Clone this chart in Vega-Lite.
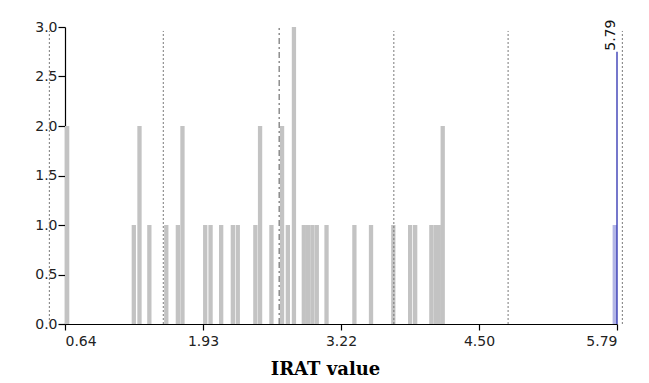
{
  "$schema": "https://vega.github.io/schema/vega-lite/v6.json",
  "width": 552,
  "height": 297,
  "autosize": {"type": "none"},
  "padding": {"left": 65, "top": 27, "right": 32, "bottom": 59},
  "background": "white",
  "config": {
    "view": {"stroke": null},
    "axis": {
      "labelFont": "DejaVu Sans",
      "labelFontSize": 14,
      "labelColor": "#222",
      "domainColor": "#000",
      "tickColor": "#000",
      "domainWidth": 1.2,
      "tickWidth": 1.2,
      "grid": false
    }
  },
  "datasets": {
    "bars": [
      {"irat": 0.660, "n": 2, "grp": "other"},
      {"irat": 1.282, "n": 1, "grp": "other"},
      {"irat": 1.335, "n": 2, "grp": "other"},
      {"irat": 1.427, "n": 1, "grp": "other"},
      {"irat": 1.585, "n": 1, "grp": "other"},
      {"irat": 1.693, "n": 1, "grp": "other"},
      {"irat": 1.736, "n": 2, "grp": "other"},
      {"irat": 1.948, "n": 1, "grp": "other"},
      {"irat": 1.998, "n": 1, "grp": "other"},
      {"irat": 2.097, "n": 1, "grp": "other"},
      {"irat": 2.206, "n": 1, "grp": "other"},
      {"irat": 2.252, "n": 1, "grp": "other"},
      {"irat": 2.416, "n": 1, "grp": "other"},
      {"irat": 2.460, "n": 2, "grp": "other"},
      {"irat": 2.566, "n": 1, "grp": "other"},
      {"irat": 2.665, "n": 2, "grp": "other"},
      {"irat": 2.719, "n": 1, "grp": "other"},
      {"irat": 2.776, "n": 3, "grp": "other"},
      {"irat": 2.868, "n": 1, "grp": "other"},
      {"irat": 2.908, "n": 1, "grp": "other"},
      {"irat": 2.948, "n": 1, "grp": "other"},
      {"irat": 2.989, "n": 1, "grp": "other"},
      {"irat": 3.080, "n": 1, "grp": "other"},
      {"irat": 3.340, "n": 1, "grp": "other"},
      {"irat": 3.495, "n": 1, "grp": "other"},
      {"irat": 3.703, "n": 1, "grp": "other"},
      {"irat": 3.860, "n": 1, "grp": "other"},
      {"irat": 3.907, "n": 1, "grp": "other"},
      {"irat": 4.058, "n": 1, "grp": "other"},
      {"irat": 4.098, "n": 1, "grp": "other"},
      {"irat": 4.127, "n": 1, "grp": "other"},
      {"irat": 4.164, "n": 2, "grp": "other"},
      {"irat": 5.769, "n": 1, "grp": "selected"}
    ],
    "sd": [
      {"irat": 0.494, "n": 0, "n2": 2.96},
      {"irat": 1.557, "n": 0, "n2": 2.96},
      {"irat": 3.708, "n": 0, "n2": 2.96},
      {"irat": 4.774, "n": 0, "n2": 2.96},
      {"irat": 5.840, "n": 0, "n2": 2.96}
    ],
    "mean": [{"irat": 2.638, "n": 0, "n2": 2.99}],
    "sel": [{"irat": 5.79, "n": 0, "n2": 2.75, "label": "5.79"}]
  },
  "layer": [
    {
      "data": {"name": "bars"},
      "mark": {"type": "bar", "size": 4.3},
      "encoding": {
        "x": {"field": "irat", "type": "quantitative",
              "scale": {"domain": [0.64, 5.79], "nice": false, "zero": false, "padding": 0},
              "axis": {"values": [0.64, 1.9275, 3.2151, 4.5025, 5.79], "format": ".2f", "tickSize": 6, "labelPadding": 4,
                       "title": "IRAT value", "titleFont": "DejaVu Serif", "titleFontSize": 18, "titleFontWeight": "bold",
                       "titleColor": "#000", "titleX": 260, "titleY": 36, "titleBaseline": "top"}},
        "y": {"field": "n", "type": "quantitative",
              "scale": {"domain": [0, 3], "nice": false, "padding": 0},
              "axis": {"values": [0, 0.5, 1, 1.5, 2, 2.5, 3], "format": ".1f", "tickSize": 7, "labelPadding": 1, "title": null}},
        "color": {
          "field": "grp",
          "type": "nominal",
          "scale": {"domain": ["other", "selected"], "range": ["#c3c3c3", "#b3b6e6"]},
          "legend": null
        }
      }
    },
    {
      "data": {"name": "sd"},
      "mark": {"type": "rule", "strokeDash": [2, 2], "color": "#7a7a7a", "strokeWidth": 1},
      "encoding": {
        "x": {"field": "irat", "type": "quantitative",
              "scale": {"domain": [0.64, 5.79], "nice": false, "zero": false, "padding": 0},
              "axis": {"values": [0.64, 1.9275, 3.2151, 4.5025, 5.79], "format": ".2f", "tickSize": 6, "labelPadding": 4,
                       "title": "IRAT value", "titleFont": "DejaVu Serif", "titleFontSize": 18, "titleFontWeight": "bold",
                       "titleColor": "#000", "titleX": 260, "titleY": 36, "titleBaseline": "top"}},
        "y": {"field": "n", "type": "quantitative",
              "scale": {"domain": [0, 3], "nice": false, "padding": 0},
              "axis": {"values": [0, 0.5, 1, 1.5, 2, 2.5, 3], "format": ".1f", "tickSize": 7, "labelPadding": 1, "title": null}},
        "y2": {"field": "n2"}
      }
    },
    {
      "data": {"name": "mean"},
      "mark": {"type": "rule", "strokeDash": [6, 3, 2, 3], "color": "#555", "strokeWidth": 1},
      "encoding": {
        "x": {"field": "irat", "type": "quantitative",
              "scale": {"domain": [0.64, 5.79], "nice": false, "zero": false, "padding": 0},
              "axis": {"values": [0.64, 1.9275, 3.2151, 4.5025, 5.79], "format": ".2f", "tickSize": 6, "labelPadding": 4,
                       "title": "IRAT value", "titleFont": "DejaVu Serif", "titleFontSize": 18, "titleFontWeight": "bold",
                       "titleColor": "#000", "titleX": 260, "titleY": 36, "titleBaseline": "top"}},
        "y": {"field": "n", "type": "quantitative",
              "scale": {"domain": [0, 3], "nice": false, "padding": 0},
              "axis": {"values": [0, 0.5, 1, 1.5, 2, 2.5, 3], "format": ".1f", "tickSize": 7, "labelPadding": 1, "title": null}},
        "y2": {"field": "n2"}
      }
    },
    {
      "data": {"name": "sel"},
      "mark": {"type": "rule", "color": "#2b2fb0", "strokeWidth": 1.3},
      "encoding": {
        "x": {"field": "irat", "type": "quantitative",
              "scale": {"domain": [0.64, 5.79], "nice": false, "zero": false, "padding": 0},
              "axis": {"values": [0.64, 1.9275, 3.2151, 4.5025, 5.79], "format": ".2f", "tickSize": 6, "labelPadding": 4,
                       "title": "IRAT value", "titleFont": "DejaVu Serif", "titleFontSize": 18, "titleFontWeight": "bold",
                       "titleColor": "#000", "titleX": 260, "titleY": 36, "titleBaseline": "top"}},
        "y": {"field": "n", "type": "quantitative",
              "scale": {"domain": [0, 3], "nice": false, "padding": 0},
              "axis": {"values": [0, 0.5, 1, 1.5, 2, 2.5, 3], "format": ".1f", "tickSize": 7, "labelPadding": 1, "title": null}},
        "y2": {"field": "n2"}
      }
    },
    {
      "data": {"name": "sel"},
      "mark": {"type": "text", "angle": 270, "align": "left", "baseline": "bottom", "font": "DejaVu Sans", "fontSize": 14, "color": "#111", "dy": 1, "dx": 1},
      "encoding": {
        "x": {"field": "irat", "type": "quantitative",
              "scale": {"domain": [0.64, 5.79], "nice": false, "zero": false, "padding": 0},
              "axis": {"values": [0.64, 1.9275, 3.2151, 4.5025, 5.79], "format": ".2f", "tickSize": 6, "labelPadding": 4,
                       "title": "IRAT value", "titleFont": "DejaVu Serif", "titleFontSize": 18, "titleFontWeight": "bold",
                       "titleColor": "#000", "titleX": 260, "titleY": 36, "titleBaseline": "top"}},
        "y": {"field": "n2", "type": "quantitative",
              "scale": {"domain": [0, 3], "nice": false, "padding": 0},
              "axis": {"values": [0, 0.5, 1, 1.5, 2, 2.5, 3], "format": ".1f", "tickSize": 7, "labelPadding": 1, "title": null}},
        "text": {"field": "label"}
      }
    }
  ]
}
